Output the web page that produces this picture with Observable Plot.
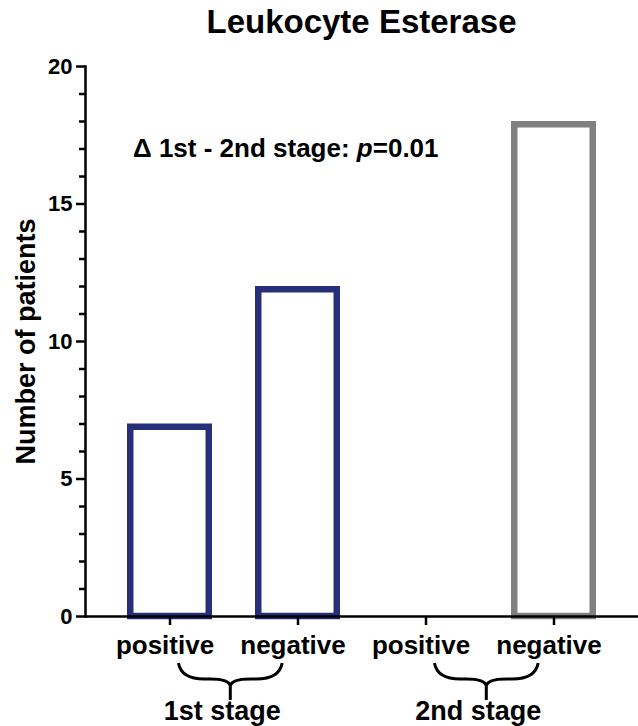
<!DOCTYPE html>
<html><head><meta charset="utf-8">
<script src="https://cdn.jsdelivr.net/npm/d3@7"></script>
<script src="https://cdn.jsdelivr.net/npm/@observablehq/plot@0.6"></script>
<style>
body{margin:0;background:#fff;font-family:"Liberation Sans",Arial,sans-serif;color:#000;}
#title{height:44px;line-height:44px;font-size:33px;font-weight:bold;text-align:center;padding-left:85px;box-sizing:border-box;width:638px;}
#chart svg{display:block;}
</style></head><body>
<div id="title"></div>
<div id="chart"></div>
<script>
const chartTitle = "Leukocyte Esterase";
const stages = ["1st stage", "1st stage", "2nd stage", "2nd stage"];
const results = ["positive", "negative", "positive", "negative"];
const patients = [7, 12, 0, 18];
const barColors = ["#252f7a", "#252f7a", "#808080", "#808080"];
const stageNames = ["1st stage", "2nd stage"];
const yMajorTicks = [0, 5, 10, 15, 20];
const yMinorTicks = [1, 2, 3, 4, 6, 7, 8, 9, 11, 12, 13, 14, 16, 17, 18, 19];
const yLabel = "Number of patients";
const annotationParts = ["Δ 1st - 2nd stage: ", "p", "=0.01"];
const annotationY = 16.7;

document.getElementById("title").textContent = chartTitle;

const data = results.map((r, i) => ({key: stages[i] + "|" + r, stage: stages[i], result: r, n: patients[i], color: barColors[i]}));
const keys = data.map(d => d.key);
const pInner = 0.336, pOuter = 0.328;
const FONT = "Liberation Sans, Arial, sans-serif";

function decorations(index, scales) {
  const x = scales.x, y = scales.y;
  const step = x(keys[1]) - x(keys[0]);
  const bw = step * (1 - pInner);
  const center = k => x(k) + bw / 2;
  const g = d3.create("svg:g").attr("font-family", FONT).attr("fill", "black");
  const t = g.append("text")
    .attr("x", x(keys[0]) + 6).attr("y", y(annotationY))
    .attr("text-anchor", "start")
    .attr("font-size", 26).attr("font-weight", "bold");
  t.append("tspan").text(annotationParts[0]);
  t.append("tspan").attr("font-style", "italic").text(annotationParts[1]);
  t.append("tspan").text(annotationParts[2]);
  const y0 = y(0);
  stageNames.forEach(s => {
    const ks = data.filter(d => d.stage === s).map(d => d.key);
    const xa = center(ks[0]) + 0.07 * step;
    const xb = center(ks[ks.length - 1]) - 0.12 * step;
    const xm = (xa + xb) / 2;
    const yt = y0 + 47, ym = y0 + 63, yc = y0 + 70, ys = y0 + 84;
    const p = d3.path();
    p.moveTo(xa, yt);
    p.bezierCurveTo(xa + 2, ym - 4, xa + 12, ym, xa + 26, ym);
    p.lineTo(xm - 20, ym);
    p.bezierCurveTo(xm - 8, ym, xm - 1, ym + 2, xm, yc);
    p.lineTo(xm, ys);
    p.moveTo(xm, yc);
    p.bezierCurveTo(xm + 1, ym + 2, xm + 8, ym, xm + 20, ym);
    p.lineTo(xb - 26, ym);
    p.bezierCurveTo(xb - 12, ym, xb - 2, ym - 4, xb, yt);
    g.append("path").attr("d", p.toString()).attr("fill", "none")
      .attr("stroke", "black").attr("stroke-width", 3);
    g.append("text").attr("x", xm - 8).attr("y", y0 + 104)
      .attr("text-anchor", "middle").attr("font-size", 27).attr("font-weight", "bold")
      .text(s);
  });
  return g.node();
}

const plot = Plot.plot({
  width: 638, height: 682,
  marginTop: 22, marginBottom: 110, marginLeft: 85, marginRight: 0,
  style: {fontFamily: FONT, background: "white", color: "black", overflow: "visible"},
  x: {domain: keys, paddingInner: pInner, paddingOuter: pOuter, axis: null},
  y: {domain: [0, 20], axis: null},
  color: {type: "identity"},
  marks: [
    Plot.barY(data.filter(d => d.n > 0), {x: "key", y: "n", fill: "white", stroke: "color", strokeWidth: 6.5, insetTop: 3.25, insetLeft: 3.25, insetRight: 3.25, insetBottom: 0}),
    Plot.ruleY([0], {strokeWidth: 2.5}),
    Plot.frame({anchor: "left", strokeWidth: 2.5}),
    Plot.axisY(yMajorTicks, {tickSize: 9, tickPadding: 4, fontSize: 22, fontWeight: "bold", strokeWidth: 2.5, label: null}),
    Plot.axisY(yMinorTicks, {tickSize: 6, text: null, strokeWidth: 2.5, label: null}),
    Plot.axisX({tickSize: 9, text: null, strokeWidth: 2.5, label: null}),
    Plot.axisX({tickSize: 0, tickPadding: 19, dx: -5, fontSize: 26, fontWeight: "bold", label: null, tickFormat: k => k.split("|")[1]}),
    Plot.text([yLabel], {frameAnchor: "left", textAnchor: "middle", rotate: -90, dx: -59, fontSize: 27, fontWeight: "bold", text: d => d}),
    decorations
  ]
});
document.getElementById("chart").appendChild(plot);
</script>
</body></html>
